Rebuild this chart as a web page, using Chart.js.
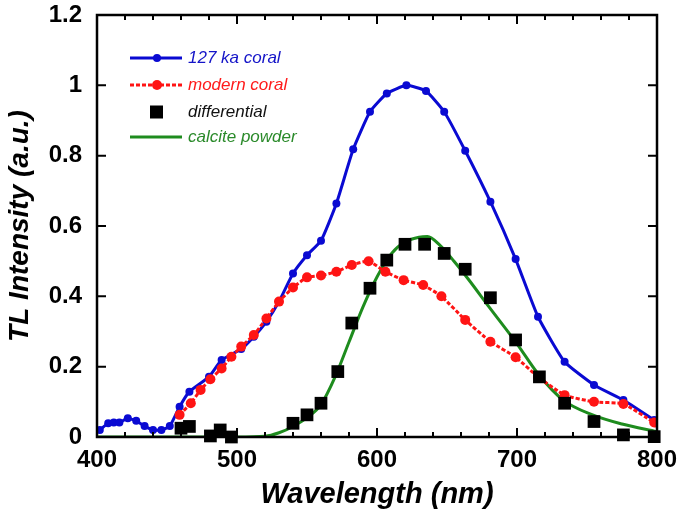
<!DOCTYPE html>
<html>
<head>
<meta charset="utf-8">
<script src="https://cdn.jsdelivr.net/npm/chart.js@4/dist/chart.umd.min.js"></script>
<style>
  html, body { margin: 0; padding: 0; background: #fff; }
  #wrap { width: 685px; height: 516px; }
</style>
</head>
<body>
<div id="wrap"><canvas id="tl"></canvas></div>
<script>
// TL emission spectra, wavelength in nm, intensity normalised (a.u.)
const oldCoralNm = [402, 408, 412, 416, 422, 428, 434, 440, 446, 452, 459, 466, 480, 489, 503, 512, 521, 530,
    540, 550, 560, 571, 583, 595, 607, 621, 635, 648, 663, 681, 699, 715, 734, 755, 776, 798];
const oldCoralVal = [0.02, 0.039, 0.041, 0.041, 0.053, 0.046, 0.031, 0.02, 0.02, 0.031, 0.086, 0.129, 0.171, 0.219,
    0.25, 0.285, 0.328, 0.385, 0.465, 0.517, 0.558, 0.664, 0.818, 0.925, 0.977, 1.0, 0.984, 0.925, 0.814, 0.669,
    0.506, 0.342, 0.214, 0.148, 0.105, 0.048];

const modernNm = [459, 467, 474, 481, 489, 496, 503, 512, 521, 530, 540, 550, 560, 571, 582, 594, 606, 619, 633,
    646, 663, 681, 699, 715, 734, 755, 776, 798];
const modernVal = [0.063, 0.096, 0.134, 0.164, 0.195, 0.228, 0.257, 0.29, 0.337, 0.385, 0.425, 0.454, 0.459, 0.47,
    0.489, 0.5, 0.47, 0.446, 0.432, 0.4, 0.333, 0.271, 0.227, 0.171, 0.119, 0.1, 0.094, 0.041];

const diffNm = [460, 466, 481, 488, 496, 540, 550, 560, 572, 582, 595, 607, 620, 634, 648, 663, 681, 699, 716, 734,
    755, 776, 798];
const diffVal = [0.025, 0.03, 0.003, 0.02, 0.0, 0.039, 0.063, 0.096, 0.186, 0.324, 0.423, 0.503, 0.548, 0.548,
    0.522, 0.477, 0.396, 0.276, 0.171, 0.096, 0.044, 0.006, 0.001];

const calciteNm = [400, 440, 480, 500, 520, 530, 540, 550, 560, 570, 580, 590, 600, 610, 620, 630, 636, 645, 655,
    665, 680, 700, 715, 733, 754, 775, 800];
const calciteVal = [0, 0, 0, 0, 0.002, 0.012, 0.03, 0.055, 0.092, 0.17, 0.27, 0.37, 0.455, 0.52, 0.555, 0.568,
    0.57, 0.545, 0.5, 0.45, 0.37, 0.265, 0.18, 0.105, 0.063, 0.037, 0.015];

const xTicks = [400, 500, 600, 700, 800];
const yTicks = [0, 0.2, 0.4, 0.6, 0.8, 1, 1.2];

const colors = {
    blue: '#0a0ad2',
    red: '#ff1414',
    black: '#000000',
    green: '#1e8c1e'
};

const FONT = '"Liberation Sans", Arial, sans-serif';

const toPoints = (xs, ys) => xs.map((x, i) => ({ x: x, y: ys[i] }));

// inward tick marks on all four sides + top/right frame
const frameTicks = {
    id: 'frameTicks',
    afterDraw(chart) {
        const { ctx, chartArea: a, scales: { x, y } } = chart;
        ctx.save();
        ctx.strokeStyle = '#000';
        ctx.lineWidth = 2.5;
        ctx.strokeRect(a.left, a.top, a.right - a.left, a.bottom - a.top);
        ctx.lineWidth = 2;
        ctx.beginPath();
        for (let v = 400; v <= 800; v += 20) {
            const px = x.getPixelForValue(v);
            const len = v % 100 === 0 ? 9 : 5;
            ctx.moveTo(px, a.bottom); ctx.lineTo(px, a.bottom - len);
            ctx.moveTo(px, a.top); ctx.lineTo(px, a.top + len);
        }
        yTicks.forEach(v => {
            const py = y.getPixelForValue(v);
            ctx.moveTo(a.left, py); ctx.lineTo(a.left + 9, py);
            ctx.moveTo(a.right, py); ctx.lineTo(a.right - 9, py);
        });
        ctx.stroke();
        ctx.restore();
    }
};

// legend drawn in the upper left corner like the original figure
const insetLegend = {
    id: 'insetLegend',
    afterDraw(chart) {
        const ctx = chart.ctx;
        const rows = [58, 85, 112, 137];
        ctx.save();
        ctx.font = 'italic 17px ' + FONT;
        ctx.textBaseline = 'middle';
        chart.data.datasets.forEach((ds, i) => {
            const yy = rows[i];
            if (ds.showLine !== false) {
                ctx.strokeStyle = ds.borderColor;
                ctx.lineWidth = ds.borderWidth;
                ctx.setLineDash(ds.borderDash || []);
                ctx.beginPath();
                ctx.moveTo(130, yy); ctx.lineTo(182, yy);
                ctx.stroke();
                ctx.setLineDash([]);
            }
            if (ds.pointRadius > 0) {
                ctx.fillStyle = ds.pointBackgroundColor;
                if (ds.pointStyle === 'rect') {
                    ctx.fillRect(150, yy - 6.5, 13, 13);
                } else {
                    ctx.beginPath();
                    ctx.arc(157, yy, ds.pointRadius, 0, Math.PI * 2);
                    ctx.fill();
                }
            }
            ctx.fillStyle = ds.legendText;
            ctx.fillText(ds.label, 188, yy);
        });
        ctx.restore();
    }
};

new Chart(document.getElementById('tl'), {
    type: 'line',
    data: {
        datasets: [{
            label: '127 ka coral',
            data: toPoints(oldCoralNm, oldCoralVal),
            borderColor: colors.blue,
            backgroundColor: colors.blue,
            pointBackgroundColor: colors.blue,
            pointBorderWidth: 0,
            pointRadius: 4,
            borderWidth: 3,
            tension: 0.15,
            legendText: '#1414c8',
            order: 3
        }, {
            label: 'modern coral',
            data: toPoints(modernNm, modernVal),
            borderColor: colors.red,
            backgroundColor: colors.red,
            pointBackgroundColor: colors.red,
            pointBorderWidth: 0,
            pointRadius: 5,
            borderWidth: 3,
            borderDash: [4, 2],
            tension: 0.15,
            legendText: '#ff1a1a',
            order: 1
        }, {
            label: 'differential',
            data: toPoints(diffNm, diffVal),
            showLine: false,
            borderColor: colors.black,
            backgroundColor: colors.black,
            pointBackgroundColor: colors.black,
            pointStyle: 'rect',
            pointBorderWidth: 0,
            pointRadius: 9,
            borderWidth: 0,
            legendText: '#111111',
            clip: false,
            order: 0
        }, {
            label: 'calcite powder',
            data: toPoints(calciteNm, calciteVal),
            borderColor: colors.green,
            backgroundColor: colors.green,
            pointRadius: 0,
            borderWidth: 3,
            cubicInterpolationMode: 'monotone',
            legendText: '#2a8a2a',
            order: 2
        }]
    },
    options: {
        responsive: true,
        maintainAspectRatio: false,
        animation: false,
        layout: { padding: { top: 15, right: 28, left: 0, bottom: 0 } },
        plugins: {
            legend: { display: false },
            tooltip: { enabled: false }
        },
        scales: {
            x: {
                type: 'linear',
                min: 400,
                max: 800,
                afterBuildTicks: s => { s.ticks = xTicks.map(v => ({ value: v })); },
                afterFit: s => { s.height = 79; s.paddingLeft = 0; s.paddingRight = 0; },
                grid: { display: false, drawTicks: false },
                border: { display: false },
                ticks: {
                    color: '#000',
                    padding: 9,
                    maxRotation: 0,
                    font: { family: FONT, size: 24, weight: 'bold' }
                },
                title: {
                    display: true,
                    text: 'Wavelength (nm)',
                    color: '#000',
                    padding: { top: 0, bottom: 4 },
                    font: { family: FONT, size: 29, weight: 'bold', style: 'italic' }
                }
            },
            y: {
                min: 0,
                max: 1.2,
                afterBuildTicks: s => { s.ticks = yTicks.map(v => ({ value: v })); },
                afterFit: s => { s.width = 97; s.paddingTop = 0; s.paddingBottom = 0; },
                grid: { display: false, drawTicks: false },
                border: { display: false },
                ticks: {
                    color: '#000',
                    padding: 15,
                    font: { family: FONT, size: 24, weight: 'bold' },
                    callback: v => String(Math.round(v * 10) / 10)
                },
                title: {
                    display: true,
                    text: 'TL Intensity (a.u.)',
                    color: '#000',
                    padding: { top: 3, bottom: 0 },
                    font: { family: FONT, size: 28, weight: 'bold', style: 'italic' }
                }
            }
        }
    },
    plugins: [frameTicks, insetLegend]
});
</script>
</body>
</html>
